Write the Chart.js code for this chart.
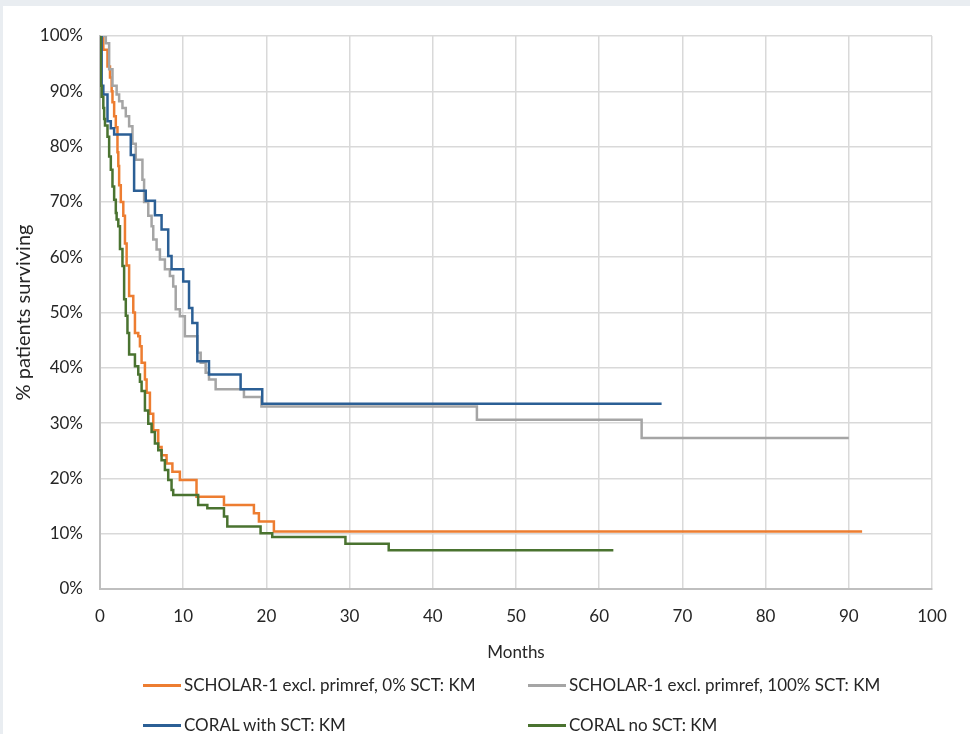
<!DOCTYPE html>
<html>
<head>
<meta charset="utf-8">
<script src="https://cdn.jsdelivr.net/npm/chart.js@4"></script>
<style>
  html, body { margin: 0; padding: 0; }
  body { width: 970px; height: 734px; background: #e9edf1; position: relative; overflow: hidden; }
  #card { position: absolute; left: 3px; top: 6px; width: 967px; height: 728px; background: #fff; }
  #chart { position: absolute; left: 0; top: 0; }
  .legend-item { position: absolute; font-family: Lato, sans-serif; font-size: 17px; color: #262626;
                 white-space: nowrap; line-height: 20px; }
  .legend-item .swatch { position: absolute; left: 0; top: 9px; width: 38px; height: 3px; }
  .legend-item .txt { position: absolute; left: 41px; top: 0; }
</style>
</head>
<body>
<div id="card">
  <canvas id="chart" width="967" height="728"></canvas>
  <div id="legend"></div>
</div>
<script>
'use strict';

// ── Data (months, % surviving) ────────────────────────────────────────────────
const seriesNames = [
  'SCHOLAR-1 excl. primref, 0% SCT: KM',
  'SCHOLAR-1 excl. primref, 100% SCT: KM',
  'CORAL with SCT: KM',
  'CORAL no SCT: KM',
];

const orangeX = [0, 0.4, 0.9, 1.2, 1.4, 1.5, 1.7, 1.9, 2.1, 2.2, 2.3, 2.5, 2.8, 3.0, 3.2, 3.5, 4.0, 4.2, 4.6, 4.8,
                 5.0, 5.4, 5.6, 6.0, 6.4, 7.0, 7.4, 8.0, 8.7, 9.6, 11.6, 14.9, 18.5, 19.1, 20.9, 91.6];
const orangeY = [100, 97.5, 94.5, 92.5, 90, 88, 85.5, 83.5, 79, 76.5, 73, 70, 67.5, 62.5, 58.5, 53, 50, 46.3, 45.7, 43.9,
                 40.9, 37.9, 35.5, 31.7, 28.7, 25.7, 24.2, 22.7, 21.2, 19.7, 16.7, 15.2, 13.7, 12.2, 10.4, 10.4];

const greyX = [0, 0.7, 1.1, 1.5, 2.0, 2.3, 2.7, 3.1, 3.5, 3.9, 4.3, 5.1, 5.3, 5.8, 6.2, 6.4, 6.8, 7.2, 7.8, 8.4,
               8.8, 9.1, 9.6, 10.2, 11.7, 12.1, 12.7, 13.1, 13.9, 17.3, 19.4, 45.3, 65.1, 90.0];
const greyY = [100, 98.7, 94, 91, 89.4, 88.2, 87, 85.5, 83.7, 80.5, 77.6, 74, 70, 67.5, 65.6, 63.2, 61.4, 59.6, 57.8, 56.6,
               54.7, 50.6, 49.3, 45.7, 42.7, 40.9, 39.1, 37.9, 36.1, 34.7, 33.0, 30.6, 27.3, 27.3];

const blueX = [0, 0.2, 0.4, 0.9, 1.3, 1.7, 3.7, 4.1, 5.5, 6.6, 7.4, 8.2, 8.6, 10.0, 10.7, 11.1, 11.7, 13.1, 16.9, 19.5, 67.5];
const blueY = [100, 91, 89.4, 84.6, 83.3, 82.2, 78.5, 72, 70.2, 67.6, 65, 60.2, 57.8, 55.6, 50.8, 48.1, 41.2, 38.8, 36.1, 33.5, 33.5];

const greenX = [0, 0.1, 0.2, 0.4, 0.5, 0.6, 0.9, 1.1, 1.3, 1.5, 1.7, 1.9, 2.0, 2.2, 2.4, 2.7, 2.9, 3.1, 3.3, 3.5,
                4.2, 4.6, 4.8, 5.0, 5.4, 5.8, 6.2, 6.6, 7.0, 7.4, 7.8, 8.2, 8.6, 8.8, 11.8, 12.9, 14.9, 15.3, 19.3, 20.7,
                29.5, 34.7, 61.7];
const greenY = [100, 91, 89, 87, 85, 83.8, 81.8, 78.2, 75.8, 72.8, 70.4, 68, 66.8, 65.6, 61.5, 58.4, 52.4, 49.4, 46.3, 42.4,
                40.3, 38.8, 37.5, 35.8, 32.3, 29.9, 28.4, 26.3, 25.1, 23.3, 21.5, 19.7, 17.9, 17.0, 15.2, 14.6, 13.1, 11.3, 10.1, 9.4,
                8.2, 7.0, 7.0];

const COLORS = {
  orange: '#ed7d31',
  grey:   '#a5a5a5',
  blue:   '#2b5f95',
  green:  '#4a7330',
  grid:   '#d9d9d9',
  axis:   '#bfbfbf',
  text:   '#262626',
};

const FONT = 'Lato, sans-serif';

function toPoints(xs, ys) {
  return xs.map((x, i) => ({ x, y: ys[i] }));
}

function kmDataset(label, xs, ys, color, order) {
  return {
    label,
    data: toPoints(xs, ys),
    borderColor: color,
    backgroundColor: color,
    borderWidth: 2.5,
    pointRadius: 0,
    stepped: true,
    tension: 0,
    fill: false,
    order,
  };
}

// Excel draws later series on top; in Chart.js lower `order` ends up on top
const datasets = [
  kmDataset(seriesNames[0], orangeX, orangeY, COLORS.orange, 4),
  kmDataset(seriesNames[1], greyX, greyY, COLORS.grey, 3),
  kmDataset(seriesNames[2], blueX, blueY, COLORS.blue, 2),
  kmDataset(seriesNames[3], greenX, greenY, COLORS.green, 1),
];

new Chart(document.getElementById('chart').getContext('2d'), {
  type: 'line',
  data: { datasets },
  options: {
    responsive: false,
    animation: false,
    layout: { padding: { top: 30, right: 38, left: 0, bottom: 0 } },
    plugins: { legend: { display: false }, tooltip: { enabled: false } },
    scales: {
      x: {
        type: 'linear',
        min: 0, max: 100,
        ticks: { stepSize: 10, color: COLORS.text, font: { family: FONT, size: 17 }, padding: 17, maxRotation: 0 },
        grid: { color: COLORS.grid, lineWidth: 1.5, drawTicks: false },
        border: { color: COLORS.axis, width: 2 },
        title: { display: true, text: 'Months', color: COLORS.text, font: { family: FONT, size: 17 },
                 padding: { top: 0, bottom: 71 } },
        afterFit(scale) { scale.height = 145; },
      },
      y: {
        min: 0, max: 100,
        ticks: { stepSize: 10, color: COLORS.text, font: { family: FONT, size: 17 }, padding: 17,
                 callback: v => v + '%' },
        grid: { color: COLORS.grid, lineWidth: 1.5, drawTicks: false },
        border: { color: COLORS.axis, width: 2 },
        title: { display: true, text: '% patients surviving', color: COLORS.text, font: { family: FONT, size: 20 },
                 padding: { top: 9, bottom: 0 } },
        afterFit(scale) { scale.width = 97; },
      },
    },
  },
});

// ── Legend: two columns, two rows, as in the reference ───────────────────────
const legendSpots = [
  { left: 140, top: 669 },
  { left: 525, top: 669 },
  { left: 140, top: 709 },
  { left: 525, top: 709 },
];
const legendEl = document.getElementById('legend');
datasets.forEach((ds, i) => {
  const item = document.createElement('div');
  item.className = 'legend-item';
  item.style.left = legendSpots[i].left + 'px';
  item.style.top = legendSpots[i].top + 'px';
  item.innerHTML = '<span class="swatch" style="background:' + ds.borderColor + '"></span>' +
                   '<span class="txt">' + ds.label + '</span>';
  legendEl.appendChild(item);
});
</script>
</body>
</html>
